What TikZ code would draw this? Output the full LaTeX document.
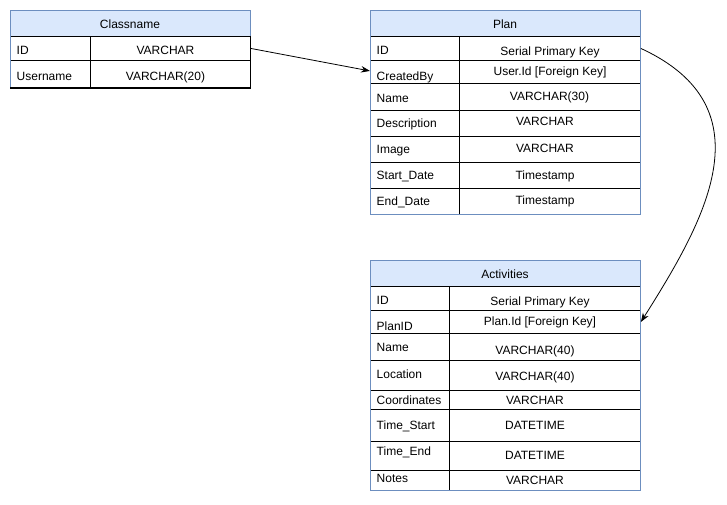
\documentclass[tikz,border=0pt]{standalone}
\usepackage{fontspec}
\setmainfont{Liberation Sans}
\usetikzlibrary{arrows.meta}
\definecolor{hdrfill}{HTML}{DAE8FC}
\definecolor{hdrline}{HTML}{6C8EBF}
\begin{document}
\begin{tikzpicture}[x=1pt,y=-1pt,
  hdr/.style={draw=hdrline, fill=hdrfill, line width=0.9pt, inner sep=0pt, anchor=north west},
  cell/.style={draw=black, line width=0.9pt, inner sep=0pt, anchor=north west},
  frame/.style={draw=hdrline, line width=0.9pt},
  divider/.style={draw=black, line width=0.9pt},
  txt/.style={font=\fontsize{12}{14}\selectfont, inner sep=0pt, text height=8.6pt, text depth=0pt},
  key/.style={txt, anchor=west},
  val/.style={txt, anchor=center},
  link/.style={draw=black, line width=0.8pt, -{Stealth[length=9pt,width=6.5pt]}}
]
\useasboundingbox (0,0) rectangle (727,504);

% ---------------- Classname ----------------
\node[hdr, minimum width=240pt, minimum height=26pt] (cnh) at (10,10) {};
\node[val] (cnht) at (130,24) {Classname};
\node[cell, minimum width=240pt, minimum height=24pt] (cnid) at (10,36) {};
\node[cell, minimum width=240pt, minimum height=28pt] (cnuser) at (10,60) {};
\draw[divider] (90,36) -- (90,88);
\draw[frame] (10,36) -- (10,88);
\draw[draw=black, line width=2pt] (10,88) -- (250,88);
\node[key] (cnk1) at (16.5,50.5) {ID};
\node[val] (cnv1) at (165.5,50.5) {VARCHAR};
\node[key] (cnk2) at (16.5,76) {Username};
\node[val] (cnv2) at (165.5,76) {VARCHAR(20)};

% ---------------- Plan ----------------
\node[hdr, minimum width=270pt, minimum height=26pt] (plh) at (370,10) {};
\node[val] (plht) at (505,24) {Plan};
\node[cell, minimum width=270pt, minimum height=24pt] (plid) at (370,36) {};
\node[cell, minimum width=270pt, minimum height=23pt] (plcb) at (370,60) {};
\node[cell, minimum width=270pt, minimum height=27pt] (plname) at (370,83) {};
\node[cell, minimum width=270pt, minimum height=26pt] (pldesc) at (370,110) {};
\node[cell, minimum width=270pt, minimum height=26pt] (plimg) at (370,136) {};
\node[cell, minimum width=270pt, minimum height=26pt] (plstart) at (370,162) {};
\node[cell, minimum width=270pt, minimum height=26pt] (plend) at (370,188) {};
\draw[divider] (459.5,36) -- (459.5,214);
\draw[frame] (370,10) rectangle (640,214);
\node[key] (plk1) at (376.5,50) {ID};
\node[val] (plv1) at (550,51.5) {Serial Primary Key};
\node[key] (plk2) at (376.5,76) {CreatedBy};
\node[val] (plv2) at (550,71.5) {User.Id [Foreign Key]};
\node[key] (plk3) at (376.5,98) {Name};
\node[val] (plv3) at (549.5,96) {VARCHAR(30)};
\node[key] (plk4) at (376.5,123.5) {Description};
\node[val] (plv4) at (545,121) {VARCHAR};
\node[key] (plk5) at (376.5,149.5) {Image};
\node[val] (plv5) at (545,148.5) {VARCHAR};
\node[key] (plk6) at (376.5,175.5) {Start\_Date};
\node[val] (plv6) at (545,175) {Timestamp};
\node[key] (plk7) at (376.5,201.5) {End\_Date};
\node[val] (plv7) at (545,200) {Timestamp};

% ---------------- Activities ----------------
\node[hdr, minimum width=270pt, minimum height=26pt] (ach) at (370,260) {};
\node[val] (acht) at (505,274) {Activities};
\node[cell, minimum width=270pt, minimum height=24pt] (acid) at (370,286) {};
\node[cell, minimum width=270pt, minimum height=23pt] (acplan) at (370,310) {};
\node[cell, minimum width=270pt, minimum height=27pt] (acname) at (370,333) {};
\node[cell, minimum width=270pt, minimum height=30pt] (acloc) at (370,360) {};
\node[cell, minimum width=270pt, minimum height=19pt] (accoord) at (370,390) {};
\node[cell, minimum width=270pt, minimum height=32pt] (actstart) at (370,409) {};
\node[cell, minimum width=270pt, minimum height=29pt] (actend) at (370,441) {};
\node[cell, minimum width=270pt, minimum height=20pt] (acnotes) at (370,470) {};
\draw[divider] (449.5,286) -- (449.5,490);
\draw[frame] (370,260) rectangle (640,490);
\node[key] (ack1) at (376.5,300) {ID};
\node[val] (acv1) at (540,301) {Serial Primary Key};
\node[key] (ack2) at (376.5,326) {PlanID};
\node[val] (acv2) at (540,321) {Plan.Id [Foreign Key]};
\node[key] (ack3) at (376.5,347.5) {Name};
\node[val] (acv3) at (535,350) {VARCHAR(40)};
\node[key] (ack4) at (376.5,374) {Location};
\node[val] (acv4) at (535,376) {VARCHAR(40)};
\node[key] (ack5) at (376.5,400) {Coordinates};
\node[val] (acv5) at (535,400.5) {VARCHAR};
\node[key] (ack6) at (376.5,425.5) {Time\_Start};
\node[val] (acv6) at (535,425.5) {DATETIME};
\node[key] (ack7) at (376.5,451.5) {Time\_End};
\node[val] (acv7) at (535,455.5) {DATETIME};
\node[key] (ack8) at (376.5,478) {Notes};
\node[val] (acv8) at (535,480) {VARCHAR};

% ---------------- Connectors ----------------
\draw[link] (cnid.east) -- ([yshift=1pt]plcb.west);
\draw[link] (plid.east) .. controls (770,108) and (704,222) .. (acplan.east);
\end{tikzpicture}
\end{document}
